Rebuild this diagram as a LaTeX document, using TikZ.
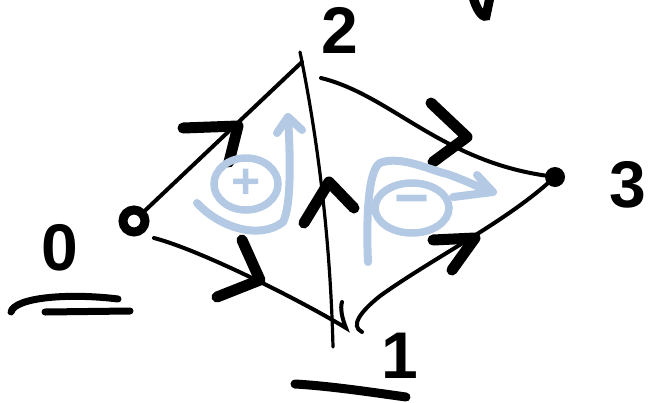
\documentclass[tikz,border=0pt]{standalone}
\usepackage{fontspec}
\setmainfont{Liberation Sans}
\usetikzlibrary{shapes.geometric}
\definecolor{pen}{RGB}{179,201,228}
\tikzset{
  edge/.style={line width=4pt, line cap=round},
  chev/.style={line width=11pt, line cap=round, line join=round},
  bluepen/.style={pen, line width=8pt, line cap=round, line join=round},
  lbl/.style={font=\fontsize{66}{66}\selectfont\bfseries, inner sep=0pt},
  sign/.style={ellipse, draw=pen, line width=7.5pt, text=pen, inner sep=0pt},
  uline/.style={line width=7pt, line cap=round}
}
\begin{document}
\begin{tikzpicture}[x=1pt,y=-1pt]
\useasboundingbox (0,0) rectangle (650,402);
% vertices
\node[circle, draw, line width=9pt, minimum size=22pt, inner sep=0pt] (n0) at (134,221) {};
\coordinate (n2) at (302,62);
\coordinate (n2t) at (300,52);
\coordinate (n2r) at (321,78);
\coordinate (n1) at (333,347);
\coordinate (n1a) at (346,328);
\coordinate (n1b) at (362,332);
\node[circle, fill, minimum size=20pt, inner sep=0pt] (n3) at (555,177) {};
% labels
\node[lbl] (l2) at (340,30) {2};
\node[lbl] (l3) at (628,185) {3};
\node[lbl] (l0) at (60,248) {0};
\node[lbl] (l1) at (400,356) {1};
% underlines
\draw[uline] (11,312) .. controls (15,297) and (70,293) .. (118,299);
\draw[uline] (45,312) -- (130,311);
\draw[line width=9pt, line cap=round] (295,384) .. controls (330,386) and (370,392) .. (406,397);
% top partial stroke
\draw[line width=9pt, line cap=round] (473,-3) .. controls (476,8) and (482,18) .. (486,16) -- (490,-3);
% edges
\draw[edge] (n0) -- (n2);
\draw[edge, line width=3.2pt] (n2t) .. controls (316,130) and (330,230) .. (n1);
\draw[edge] (n2r) .. controls (390,95) and (440,160) .. (n3);
\draw[edge] (154,238) .. controls (200,250) and (300,300) .. (n1a) .. controls (342,318) and (340,308) .. (342,302);
\draw[edge] (n1b) .. controls (350,326) and (360,312) .. (380,296) .. controls (430,260) and (500,225) .. (n3);
% chevrons
\draw[chev] (183,128) -- (238,126) -- (229,162);
\draw[chev] (304,223) -- (329,182) -- (354,208);
\draw[chev] (431,103) -- (467,137) -- (433,162);
\draw[chev] (242,240) -- (260,280) -- (217,297);
\draw[chev] (433,240) -- (475,238) -- (452,270);
% blue annotations
\node[sign, minimum width=64pt, minimum height=52pt, font=\fontsize{50}{50}\selectfont\bfseries] (plus) at (246,184) {+};
\node[sign, minimum width=74pt, minimum height=50pt, font=\fontsize{60}{60}\selectfont\bfseries] (minus) at (412,208) {\raisebox{2pt}{−}};
\draw[bluepen] (197,203) .. controls (220,228) and (260,240) .. (283,222) .. controls (292,205) and (290,150) .. (288,117);
\draw[bluepen] (277,133) -- (288,117) -- (302,130);
\draw[bluepen] (368,262) .. controls (366,220) and (368,170) .. (380,163) .. controls (400,155) and (430,170) .. (447,174) .. controls (465,180) and (480,188) .. (492,192);
\draw[bluepen] (477,175) -- (493,192) -- (453,197);
\end{tikzpicture}
\end{document}
